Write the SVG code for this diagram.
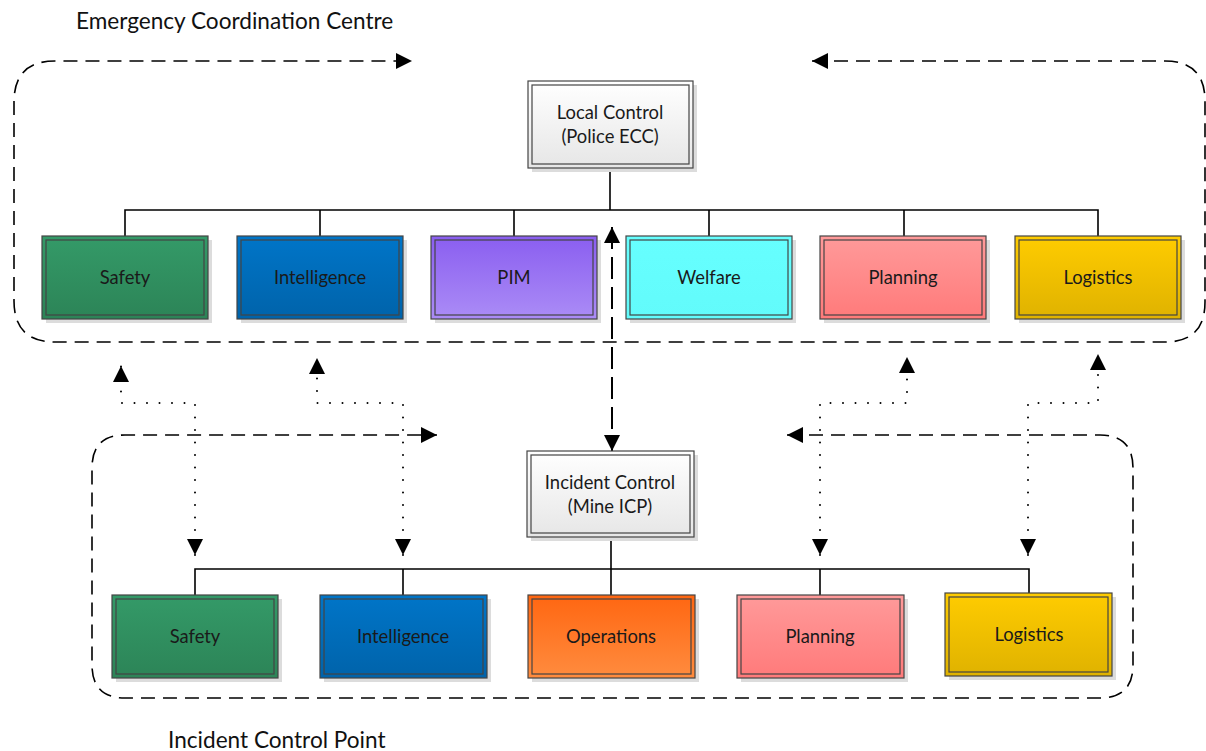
<svg xmlns="http://www.w3.org/2000/svg" width="1206" height="751" viewBox="0 0 1206 751">
  <style>
    .lbl { font-family: Lato, "Open Sans", "Liberation Sans", sans-serif; font-size: 18.4px; fill: #1a1a1a; text-anchor: middle; }
    .title { font-family: Lato, "Open Sans", "Liberation Sans", sans-serif; font-size: 22.6px; fill: #111; }
    .shadow { fill: #dcdcdc; }
    .outer { stroke: #444; stroke-width: 1.2; }
    .inner { fill: none; stroke: #444; stroke-width: 1.2; }
    .tree { fill: none; stroke: #000; stroke-width: 1.6; }
    .group { fill: none; stroke: #000; stroke-width: 1.6; stroke-dasharray: 14 8; }
    .dots { fill: none; stroke: #000; stroke-width: 2; stroke-linecap: round; stroke-dasharray: 0 12.5; }
    .link { fill: none; stroke: #000; stroke-width: 2; stroke-dasharray: 22 8; }
  </style>
  <defs>
    <marker id="arrow" markerUnits="userSpaceOnUse" markerWidth="16" markerHeight="16" refX="16" refY="8" orient="auto-start-reverse">
      <path d="M0,0 L16,8 L0,16 z" fill="#000"/>
    </marker>
    <linearGradient id="gGreen" x1="0" y1="0" x2="0" y2="1"><stop offset="0" stop-color="#349a68"/><stop offset="1" stop-color="#2c8457"/></linearGradient>
    <linearGradient id="gBlue" x1="0" y1="0" x2="0" y2="1"><stop offset="0" stop-color="#0075c8"/><stop offset="1" stop-color="#0063aa"/></linearGradient>
    <linearGradient id="gPurple" x1="0" y1="0" x2="0" y2="1"><stop offset="0" stop-color="#8a5ef0"/><stop offset="1" stop-color="#ab8cf6"/></linearGradient>
    <linearGradient id="gCyan" x1="0" y1="0" x2="0" y2="1"><stop offset="0" stop-color="#66ffff"/><stop offset="1" stop-color="#62fbfb"/></linearGradient>
    <linearGradient id="gPink" x1="0" y1="0" x2="0" y2="1"><stop offset="0" stop-color="#ff9a9a"/><stop offset="1" stop-color="#ff7a7a"/></linearGradient>
    <linearGradient id="gGold" x1="0" y1="0" x2="0" y2="1"><stop offset="0" stop-color="#ffcc00"/><stop offset="1" stop-color="#dfb200"/></linearGradient>
    <linearGradient id="gOrange" x1="0" y1="0" x2="0" y2="1"><stop offset="0" stop-color="#ff6611"/><stop offset="1" stop-color="#ff8c3f"/></linearGradient>
    <linearGradient id="gWhite" x1="0" y1="0" x2="0" y2="1"><stop offset="0" stop-color="#ffffff"/><stop offset="1" stop-color="#e6e6e6"/></linearGradient>
  </defs>

  <rect width="1206" height="751" fill="#ffffff"/>

  <!-- group titles -->
  <text class="title" x="76" y="29">Emergency Coordination Centre</text>
  <text class="title" x="168" y="748">Incident Control Point</text>

  <!-- connectors -->
  <g id="connectors">
    <!-- group boundaries -->
    <path class="group" d="M812,61 L1165,61 Q1205,61 1205,101 L1205,302 Q1205,342 1165,342 L55,342 Q14,342 14,301 L14,102 Q14,61 55,61 L412,61" marker-start="url(#arrow)" marker-end="url(#arrow)"/>
    <path class="group" d="M787,435 L1100,435 Q1133,435 1133,468 L1133,665 Q1133,698 1100,698 L125,698 Q92,698 92,665 L92,468 Q92,435 125,435 L437,435" marker-start="url(#arrow)" marker-end="url(#arrow)"/>

    <!-- local control tree -->
    <path class="tree" d="M610,168 V210 M125,236 V210 H1098 V236 M320,210 V236 M514,210 V236 M709,210 V236 M904,210 V236"/>
    <!-- incident control tree -->
    <path class="tree" d="M611,537 V595 M195,595 V569 H1029 V595 M403,569 V595 M820,569 V595"/>

    <!-- ECC to ICP link -->
    <path class="link" d="M612,227 V451" marker-start="url(#arrow)" marker-end="url(#arrow)"/>

    <!-- cell to cell liaison -->
    <path class="dots" d="M195,555 V403 H121 V366" marker-start="url(#arrow)" marker-end="url(#arrow)"/>
    <path class="dots" d="M403,555 V403 H317 V358" marker-start="url(#arrow)" marker-end="url(#arrow)"/>
    <path class="dots" d="M820,555 V403 H907 V357" marker-start="url(#arrow)" marker-end="url(#arrow)"/>
    <path class="dots" d="M1028,555 V403 H1098 V354" marker-start="url(#arrow)" marker-end="url(#arrow)"/>
  </g>

  <!-- ECC nodes -->
  <g id="local-control">
    <rect class="shadow" x="532" y="85" width="165" height="87"/>
    <rect class="outer" x="528" y="81" width="165" height="87" fill="url(#gWhite)"/>
    <rect class="inner" x="532" y="85" width="157" height="79"/>
    <text class="lbl" x="610" y="119">Local Control</text>
    <text class="lbl" x="610" y="143">(Police ECC)</text>
  </g>
  <g id="ecc-safety">
    <rect class="shadow" x="46" y="240" width="166" height="83"/>
    <rect class="outer" x="42" y="236" width="166" height="83" fill="url(#gGreen)"/>
    <rect class="inner" x="46" y="240" width="158" height="75"/>
    <text class="lbl" x="125" y="284">Safety</text>
  </g>
  <g id="ecc-intelligence">
    <rect class="shadow" x="241" y="240" width="166" height="83"/>
    <rect class="outer" x="237" y="236" width="166" height="83" fill="url(#gBlue)"/>
    <rect class="inner" x="241" y="240" width="158" height="75"/>
    <text class="lbl" x="320" y="284">Intelligence</text>
  </g>
  <g id="ecc-pim">
    <rect class="shadow" x="435" y="240" width="166" height="83"/>
    <rect class="outer" x="431" y="236" width="166" height="83" fill="url(#gPurple)"/>
    <rect class="inner" x="435" y="240" width="158" height="75"/>
    <text class="lbl" x="514" y="284">PIM</text>
  </g>
  <g id="ecc-welfare">
    <rect class="shadow" x="630" y="240" width="166" height="83"/>
    <rect class="outer" x="626" y="236" width="166" height="83" fill="url(#gCyan)"/>
    <rect class="inner" x="630" y="240" width="158" height="75"/>
    <text class="lbl" x="709" y="284">Welfare</text>
  </g>
  <g id="ecc-planning">
    <rect class="shadow" x="824" y="240" width="166" height="83"/>
    <rect class="outer" x="820" y="236" width="166" height="83" fill="url(#gPink)"/>
    <rect class="inner" x="824" y="240" width="158" height="75"/>
    <text class="lbl" x="903" y="284">Planning</text>
  </g>
  <g id="ecc-logistics">
    <rect class="shadow" x="1019" y="240" width="166" height="83"/>
    <rect class="outer" x="1015" y="236" width="166" height="83" fill="url(#gGold)"/>
    <rect class="inner" x="1019" y="240" width="158" height="75"/>
    <text class="lbl" x="1098" y="284">Logistics</text>
  </g>

  <!-- ICP nodes -->
  <g id="incident-control">
    <rect class="shadow" x="531" y="455" width="167" height="86"/>
    <rect class="outer" x="527" y="451" width="167" height="86" fill="url(#gWhite)"/>
    <rect class="inner" x="531" y="455" width="159" height="78"/>
    <text class="lbl" x="610" y="489">Incident Control</text>
    <text class="lbl" x="610" y="513">(Mine ICP)</text>
  </g>
  <g id="icp-safety">
    <rect class="shadow" x="116" y="599" width="166" height="83"/>
    <rect class="outer" x="112" y="595" width="166" height="83" fill="url(#gGreen)"/>
    <rect class="inner" x="116" y="599" width="158" height="75"/>
    <text class="lbl" x="195" y="643">Safety</text>
  </g>
  <g id="icp-intelligence">
    <rect class="shadow" x="324" y="599" width="167" height="83"/>
    <rect class="outer" x="320" y="595" width="167" height="83" fill="url(#gBlue)"/>
    <rect class="inner" x="324" y="599" width="159" height="75"/>
    <text class="lbl" x="403" y="643">Intelligence</text>
  </g>
  <g id="icp-operations">
    <rect class="shadow" x="532" y="599" width="167" height="83"/>
    <rect class="outer" x="528" y="595" width="167" height="83" fill="url(#gOrange)"/>
    <rect class="inner" x="532" y="599" width="159" height="75"/>
    <text class="lbl" x="611" y="643">Operations</text>
  </g>
  <g id="icp-planning">
    <rect class="shadow" x="741" y="599" width="167" height="83"/>
    <rect class="outer" x="737" y="595" width="167" height="83" fill="url(#gPink)"/>
    <rect class="inner" x="741" y="599" width="159" height="75"/>
    <text class="lbl" x="820" y="643">Planning</text>
  </g>
  <g id="icp-logistics">
    <rect class="shadow" x="949" y="597" width="167" height="83"/>
    <rect class="outer" x="945" y="593" width="167" height="83" fill="url(#gGold)"/>
    <rect class="inner" x="949" y="597" width="159" height="75"/>
    <text class="lbl" x="1029" y="641">Logistics</text>
  </g>
</svg>
